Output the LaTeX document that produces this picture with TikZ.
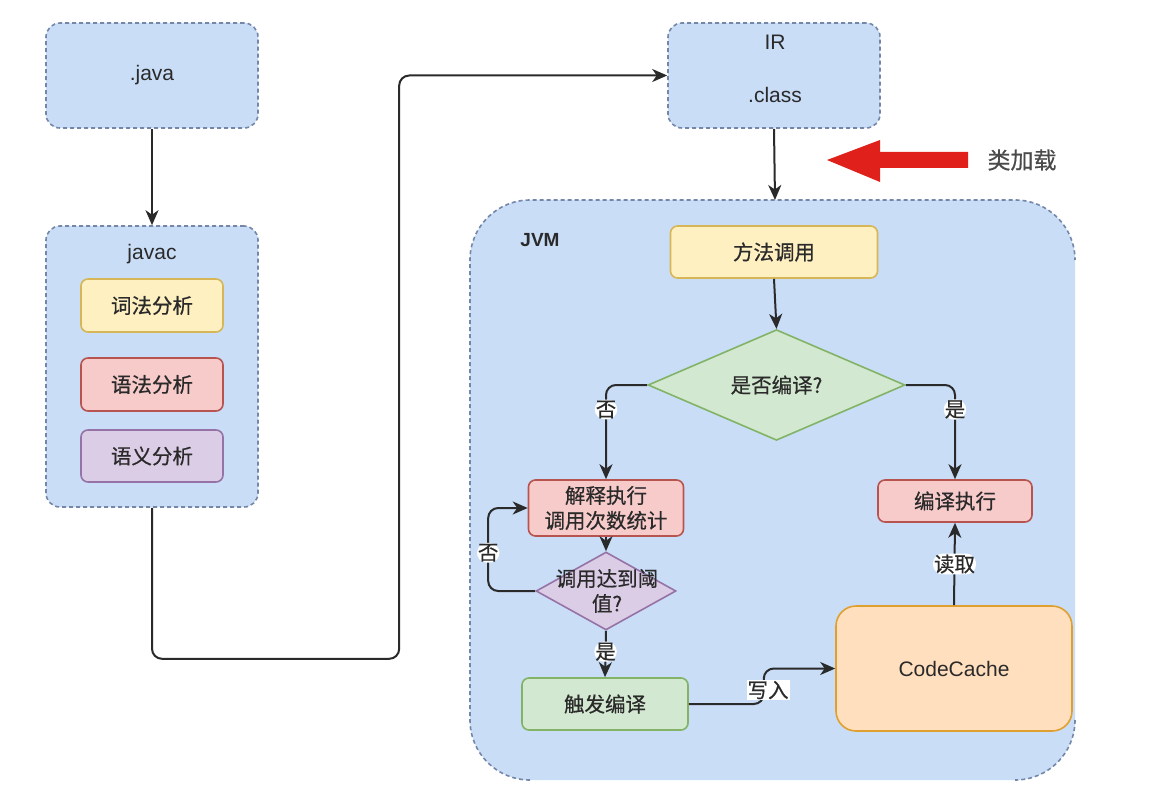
\documentclass[tikz,border=0pt]{standalone}
\usepackage{fontspec}
\setmainfont{Liberation Sans}
\newfontfamily\cjk[FakeBold=0.5]{Noto Sans CJK SC}
\usetikzlibrary{shapes.geometric,arrows.meta}
\definecolor{bluef}{HTML}{C9DDF7}
\definecolor{dashc}{HTML}{7487A8}
\definecolor{yelf}{HTML}{FFF0C2}
\definecolor{yeld}{HTML}{D6B656}
\definecolor{redf}{HTML}{F8CBCB}
\definecolor{redd}{HTML}{B85450}
\definecolor{purf}{HTML}{DCCDE6}
\definecolor{purd}{HTML}{9673A6}
\definecolor{grnf}{HTML}{D3E8D0}
\definecolor{grnd}{HTML}{82B366}
\definecolor{oraf}{HTML}{FFDFBE}
\definecolor{orad}{HTML}{E0A030}
\definecolor{txt}{HTML}{2A2A2A}
\definecolor{redarr}{HTML}{E0201A}
\tikzset{
  dsh/.style={draw=dashc, dash pattern=on 4pt off 3pt, line width=1.6pt},
  grp/.style={dsh, fill=bluef, rounded corners=14pt},
  box/.style={rounded corners=7pt, line width=1.6pt, inner sep=0pt, align=center, text=txt},
  ybox/.style={box, draw=yeld, fill=yelf},
  rbox/.style={box, draw=redd, fill=redf},
  pbox/.style={box, draw=purd, fill=purf},
  gbox/.style={box, draw=grnd, fill=grnf},
  lat/.style={font=\fontsize{21}{24}\selectfont, text=txt},
  zh/.style={font=\fontsize{20.5}{25}\selectfont\cjk, text=txt},
  arr/.style={draw=txt, line width=2pt, -{Stealth[length=15pt,width=13pt,inset=4.5pt]}, rounded corners=10pt},
  lbl/.style={zh, fill=white, inner sep=1pt},
}
\begin{document}
\begin{tikzpicture}[x=1pt,y=-1pt]
\useasboundingbox (0,0) rectangle (1151,805);
% left column
\node[grp, minimum width=212pt, minimum height=105pt] (java) at (152,75.5) {};
\node[lat] (javat) at (152,75) {.java};
\node[grp, minimum width=212pt, minimum height=281pt] (javac) at (152,366.5) {};
\node[lat] (javacl) at (152,254) {javac};
\node[ybox, zh, minimum width=142pt, minimum height=53pt] (cifa) at (152,305.5) {词法分析};
\node[rbox, zh, minimum width=142pt, minimum height=53pt] (yufa) at (152,384.5) {语法分析};
\node[pbox, zh, minimum width=142pt, minimum height=52pt] (yuyi) at (152,456) {语义分析};
% IR
\node[grp, minimum width=212pt, minimum height=105pt] (ir) at (774,75.5) {};
\node[lat] (irl) at (775,42) {IR};
\node[lat] (irc) at (775,95) {.class};
% JVM container
\fill[bluef] (470,260) arc[start angle=180,end angle=270,radius=60] -- (1015,200) arc[start angle=270,end angle=360,radius=60] -- (1075,720) arc[start angle=0,end angle=90,radius=60] -- (530,780) arc[start angle=90,end angle=180,radius=60] -- cycle;
\draw[dsh] (530,780) arc[start angle=90,end angle=180,radius=60] -- (470,260) arc[start angle=180,end angle=270,radius=60] -- (1015,200) arc[start angle=270,end angle=360,radius=60];
\draw[dsh] (1075,720) arc[start angle=0,end angle=90,radius=60];
\coordinate (jvmtop) at (775,200);
\node[font=\fontsize{19}{22}\selectfont\bfseries, text=txt] (jvml) at (540,240) {JVM};
% JVM contents
\node[ybox, zh, minimum width=207pt, minimum height=52pt] (ff) at (774,252) {方法调用};
\node[diamond, draw=grnd, fill=grnf, line width=1.6pt, minimum width=257pt, minimum height=104pt, inner sep=0pt, zh] (d1) at (776.5,385) {是否编译?};
\node[rbox, zh, minimum width=155pt, minimum height=56pt] (jz) at (606,508) {解释执行\\调用次数统计};
\node[rbox, zh, minimum width=154pt, minimum height=42pt] (bz) at (955,501) {编译执行};
\node[diamond, draw=purd, fill=purf, line width=1.6pt, minimum width=140pt, minimum height=78pt, inner sep=0pt] (d2) at (606,591) {};
\node[zh, align=center, inner sep=0pt] (d2t) at (607,591) {调用达到阈\\值?};
\node[gbox, zh, minimum width=166pt, minimum height=52pt] (cf) at (605,704) {触发编译};
\node[box, draw=orad, fill=oraf, rounded corners=20pt, minimum width=236pt, minimum height=125pt, lat] (cc) at (954,668.5) {CodeCache};
% edges
\draw[arr] (java.south) -- (javac.north);
\draw[arr] (javac.south) -- ++(0,151) -| ([xshift=-268pt]ir.west) -- (ir.west);
\draw[arr] (ir.south) -- (jvmtop);
\draw[arr] (ff.south) -- (d1.north);
\draw[arr] (d1.west) -| node[lbl, pos=0.63] (no1) {否} (jz.north);
\draw[arr] (d1.east) -| node[lbl, pos=0.63] (yes1) {是} (bz.north);
\draw[arr] (jz.south) -- (d2.north);
\draw[arr] (d2.west) -- ++(-47,0) |- node[lbl, pos=0.23] (no2) {否} (jz.west);
\draw[arr] (d2.south) -- node[lbl, pos=0.45] (yes2) {是} (cf.north);
\draw[arr] (cf.east) -- ++(75,0) -- ++(0,-35.5) -- (cc.west);
\node[lbl] (xr) at (768,690) {写入};
\draw[arr] (cc.north) -- node[lbl] (dq) {读取} (bz.south);
% red class-loading arrow
\fill[redarr] (968,152) -- (880,152) -- (880,140) -- (827,160) -- (880,182) -- (880,168) -- (968,168) -- cycle;
\node[font=\fontsize{23}{26}\selectfont\cjk, text=txt!85!white] (lj) at (1022,160) {类加载};
\end{tikzpicture}
\end{document}
